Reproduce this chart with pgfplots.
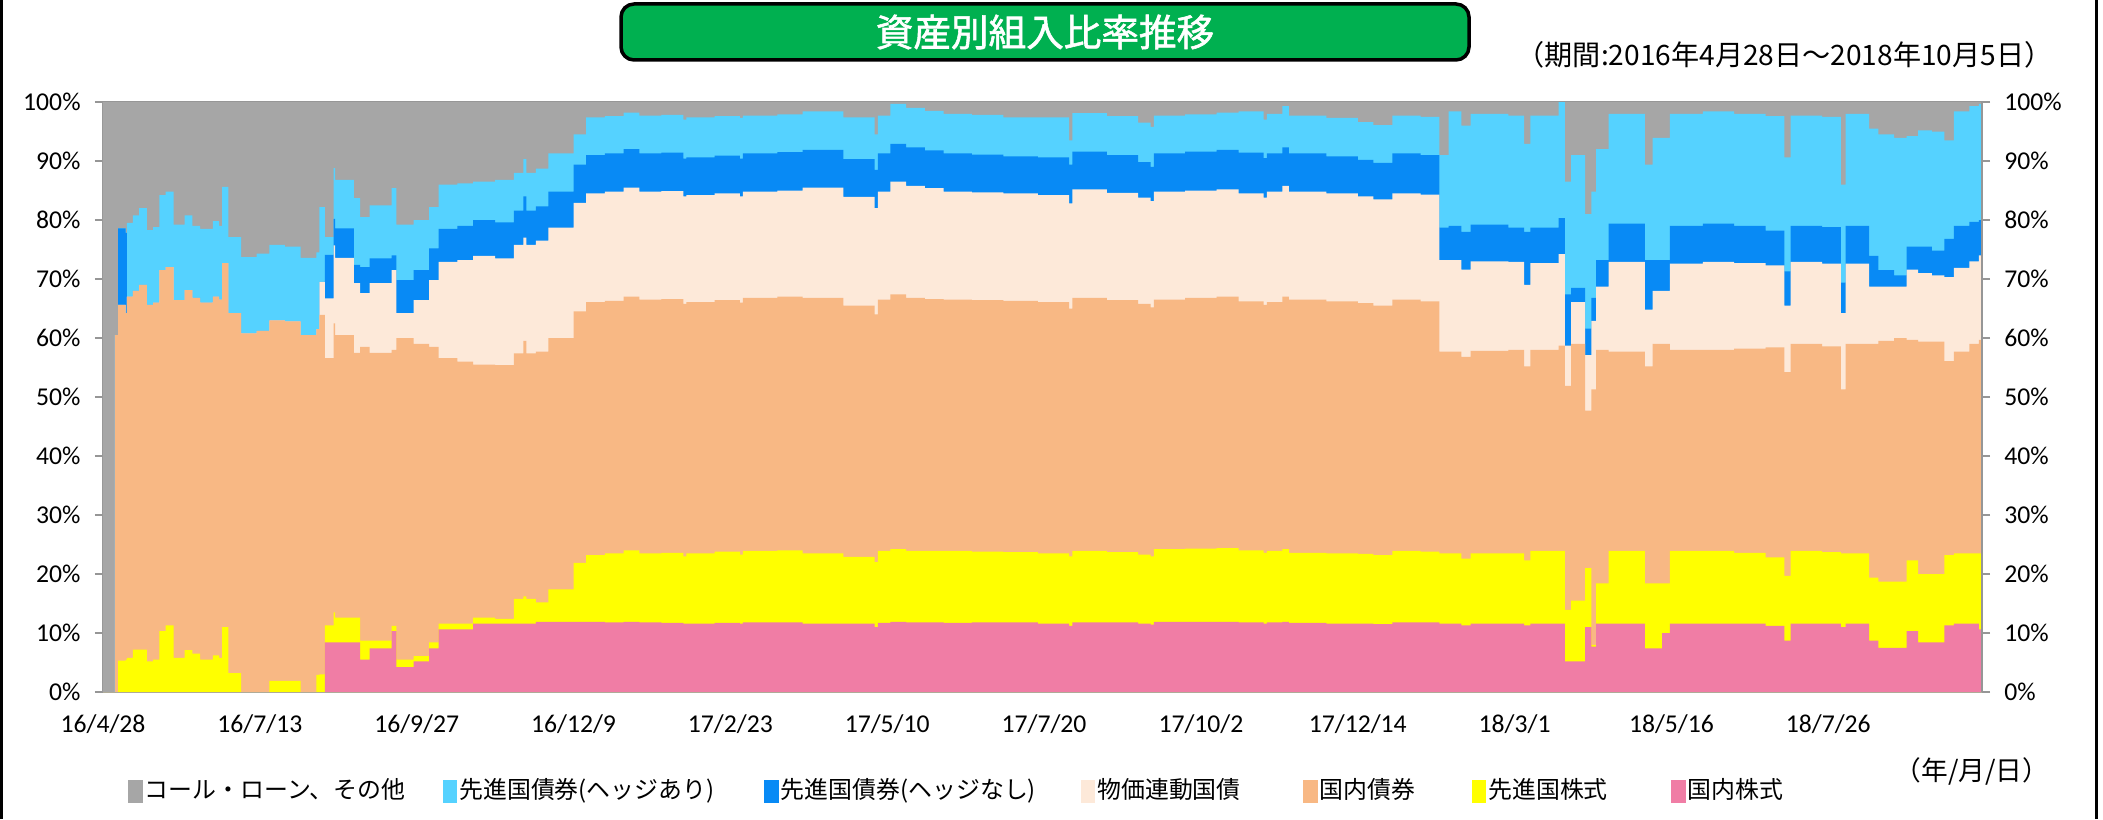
\documentclass[border=0pt]{standalone}
\usepackage{pgfplots}
\pgfplotsset{compat=1.18}
\usepackage{pgfplotstable}
\usepackage{fontspec}
\setmainfont{Carlito}
\newfontfamily\cjk{Noto Sans CJK JP}
\newfontfamily\cjkbold[FakeBold=1.5]{Noto Sans CJK JP}
\definecolor{cgray}{RGB}{166,166,166}
\definecolor{clblue}{RGB}{85,210,255}
\definecolor{cdblue}{RGB}{8,138,245}
\definecolor{cpale}{RGB}{253,233,217}
\definecolor{corange}{RGB}{248,184,132}
\definecolor{cyellow}{RGB}{255,255,0}
\definecolor{cpink}{RGB}{240,125,165}
\definecolor{cgreen}{RGB}{0,176,80}
\definecolor{caxis}{RGB}{150,150,150}

% cumulative tops: c1 pink, c2 yellow, c3 orange, c4 pale, c5 dark blue, c6 light blue; rest to 100 = call loan
\pgfplotstableread{
x c1 c2 c3 c4 c5 c6
0 0 0 0 0 0 0
3.8 0 0 60.5 60.5 60.5 60.5
4.8 0 5.3 65.6 65.6 78.6 78.6
7.2 0 5.5 64.2 64.2 77.8 77.8
7.6 0 5.8 67.0 67.0 67.0 79.5
9.5 0 7.2 68.0 68.0 68.0 80.8
11.5 0 7.2 69.0 69.0 69.0 82.0
14 0 5.2 65.6 65.6 65.6 78.3
16 0 5.5 66.0 66.0 66.0 78.8
18 0 10.3 71.5 71.5 71.5 84.2
20 0 11.3 72.0 72.0 72.0 84.8
22.5 0 5.8 66.4 66.4 66.4 79.2
26 0 7.1 68.1 68.1 68.1 80.8
28.5 0 6.5 66.8 66.8 66.8 79.0
31 0 5.5 66.0 66.0 66.0 78.5
35 0 6.2 67.0 67.0 67.0 79.8
37 0 5.8 66.5 66.5 66.5 79.0
38 0 11.0 72.7 72.7 72.7 85.6
40 0 3.2 64.2 64.2 64.2 77.1
44 0 0 60.8 60.8 60.8 73.7
49 0 0 61.2 61.2 61.2 74.3
53 0 1.9 63.0 63.0 63.0 75.8
58 0 1.9 62.8 62.8 62.8 75.5
63 0 0 60.5 60.5 60.5 73.6
68 0 2.9 61.5 61.5 61.5 74.5
69 0 3.0 63.9 69.5 69.5 82.2
70.7 8.4 11.3 56.6 66.7 74.1 77.1
73.5 8.4 13.5 62.5 75.7 80.2 88.8
74 8.4 12.6 60.5 73.6 78.6 86.8
80 8.4 12.6 57.5 69.3 72.4 83.7
82 5.5 8.7 58.5 67.6 72.0 80.5
85 7.4 8.7 57.5 69.3 73.5 82.5
92 10.3 11.2 58.0 71.5 74.0 85.4
93.5 4.2 5.5 60.0 64.2 69.8 79.2
99 5.2 6.1 59.0 66.4 71.5 80.0
104 7.4 8.4 58.5 69.8 75.2 82.2
107 10.6 11.6 56.6 72.9 78.5 86.0
113 10.6 11.6 56.0 73.2 79.0 86.2
118 11.6 12.6 55.5 73.9 80.0 86.5
125 11.6 12.4 55.4 73.5 79.6 86.8
131 11.6 15.8 57.4 75.8 81.6 88.0
134 11.6 16.2 59.5 77.0 84.0 90.3
135 11.6 15.8 57.4 75.8 81.6 88.0
138 11.9 15.2 57.7 76.5 82.3 88.7
142 11.9 17.4 60.0 78.7 84.8 91.3
150 11.9 21.9 64.5 82.9 89.4 94.5
154 11.9 23.2 66.1 84.5 91.0 97.4
160 11.8 23.5 66.3 84.8 91.3 97.6
166 11.9 24.0 67.0 85.5 92.0 98.2
171 11.8 23.5 66.5 84.8 91.3 97.7
178 11.7 23.6 66.6 84.9 91.4 97.8
185 11.6 23.0 65.8 84.0 90.4 97.0
186 11.6 23.5 66.1 84.2 90.6 97.4
195 11.7 23.8 66.4 84.5 90.9 97.6
203 11.6 23.3 66.0 84.0 90.4 97.3
204 11.8 23.9 66.8 84.8 91.3 97.7
215 11.8 24.0 67.0 85.0 91.5 97.9
223 11.6 23.5 66.8 85.5 91.9 98.4
236 11.6 22.9 65.5 83.9 90.3 97.4
246 11.0 22.0 64.0 82.0 88.5 94.5
247 11.7 23.9 66.5 84.8 91.3 97.7
251 11.9 24.2 67.4 86.5 92.9 99.7
256 11.8 23.9 66.8 85.8 92.3 99.0
262 11.8 23.9 66.6 85.4 91.8 98.5
268 11.7 23.9 66.5 84.8 91.3 98.0
277 11.8 23.8 66.4 84.7 91.1 97.8
287 11.8 23.7 66.3 84.5 90.8 97.4
298 11.6 23.5 66.1 84.2 90.6 97.4
308 11.2 23.0 65.0 82.8 89.4 93.5
309 11.8 23.9 66.8 85.2 91.6 98.1
320 11.8 23.7 66.4 84.6 91.0 97.6
330 11.6 23.3 65.8 83.8 89.8 96.5
334 11.4 23.0 65.2 83.2 89.0 95.8
335 11.9 24.2 66.5 84.8 91.3 97.7
345 11.9 24.3 66.8 85.0 91.6 97.9
355 11.9 24.4 67.0 85.2 91.9 98.2
362 11.8 24.0 66.2 84.5 91.4 98.4
370 11.6 23.6 65.6 83.8 90.5 97.0
371 11.8 23.9 66.1 84.8 91.3 98.0
376 11.9 24.2 67.0 85.8 92.3 99.3
378 11.7 23.6 66.5 84.8 91.3 97.7
390 11.6 23.5 66.2 84.5 90.8 97.3
400 11.6 23.4 65.9 84.0 90.2 96.6
405 11.5 23.2 65.5 83.5 89.7 96.1
411 11.8 23.9 66.5 84.5 91.3 97.7
420 11.8 23.8 66.2 84.3 91.0 97.5
426 11.6 23.5 57.7 73.2 78.7 91.0
429 11.6 23.5 57.7 73.2 79.0 98.4
433 11.3 22.6 56.8 71.6 78.0 96.0
436 11.6 23.5 57.8 73.0 79.2 98.0
448 11.6 23.5 58.0 72.9 78.7 97.7
453 11.3 22.3 55.2 69.0 78.0 92.9
455 11.6 23.9 58.0 72.7 78.7 97.7
464 11.6 23.9 58.7 74.2 80.3 100
466 5.2 13.9 51.9 58.7 67.4 86.5
468 5.2 15.5 59.0 66.1 68.5 91.0
472.5 11.0 21.0 47.7 57.1 61.6 81.0
474.5 7.7 8.0 51.3 62.9 66.8 84.8
476 11.6 18.4 58.0 68.7 73.2 92.0
480 11.6 23.9 57.7 72.9 79.4 98.0
491.5 7.4 18.4 55.2 64.8 73.2 89.4
494 7.4 18.4 59.0 68.0 73.2 93.9
497 10.0 18.4 59.0 68.0 73.2 93.9
499.5 11.6 23.9 58.0 72.6 79.0 98.0
510 11.6 23.9 58.0 72.9 79.4 98.4
520 11.6 23.6 58.2 72.7 79.0 98.0
530 11.2 22.8 58.4 72.3 78.2 97.6
536 8.7 19.7 54.2 65.5 71.3 90.6
538 11.6 23.9 59.0 72.9 79.0 97.7
548 11.6 23.7 58.6 72.6 78.8 97.5
554 11.0 23.5 51.3 64.2 69.4 86.0
555.5 11.6 23.5 59.0 72.6 79.0 98.0
563 8.7 19.4 59.0 68.7 73.9 95.5
566 7.5 18.7 59.5 68.7 71.5 94.5
571 7.5 18.7 60.0 68.7 70.6 93.9
575 10.3 22.3 59.7 71.6 75.5 94.2
578.6 8.4 20.0 59.4 71.0 75.5 95.2
583 8.4 20.0 59.4 70.6 74.8 95.0
587 11.3 23.2 56.1 70.3 76.8 93.5
590 11.6 23.5 57.7 71.9 79.0 98.4
595 11.6 23.5 59.0 73.0 79.7 99.3
598 10.6 23.5 59.7 74.0 80.0 99.7
599 10.6 23.5 59.7 74.0 80.0 99.7
}\data

\begin{document}
\begin{tikzpicture}[x=0.1mm,y=0.1mm]
\path[use as bounding box] (0,0) rectangle (2103,819);
% frame lines
\draw[line width=0.3mm] (1.5,0) -- (1.5,819);
\draw[line width=0.3mm] (2096,0) -- (2096,819);
% title
\draw[line width=0.35mm, rounded corners=1.3mm, fill=cgreen] (621,759) rectangle (1469,815);
\node[text=white, font=\cjkbold\fontsize{10.7}{12}\selectfont] at (1045,787) {資産別組入比率推移};
\node[anchor=east, font=\cjk\fontsize{8.0}{9}\selectfont, inner sep=0pt] at (2053,764) {（期間:2016年4月28日～2018年10月5日）};
\node[anchor=east, font=\cjk\fontsize{7.6}{9}\selectfont, inner sep=0pt] at (2050,48) {（年/月/日）};

\begin{axis}[
  at={(10.3mm,12.7mm)}, anchor=south west, scale only axis,
  width=187.9mm, height=59mm,
  xmin=0, xmax=599, ymin=0, ymax=100, enlargelimits=false,
  const plot,
  axis line style={caxis, line width=0.25mm},
  tick align=outside, major tick length=0.8mm,
  ytick={0,10,...,100},
  yticklabels={0\%,10\%,20\%,30\%,40\%,50\%,60\%,70\%,80\%,90\%,100\%},
  ytick pos=left,
  ytick style={caxis, line width=0.25mm},
  xtick={0,50,...,550},
  xticklabels={16/4/28,16/7/13,16/9/27,16/12/9,17/2/23,17/5/10,17/7/20,17/10/2,17/12/14,18/3/1,18/5/16,18/7/26},
  xtick style={draw=none},
  tick label style={font=\fontsize{7.3}{8}\selectfont},
  yticklabel style={anchor=east, xshift=-0.2mm},
  xticklabel style={yshift=-0.2mm},
  legend columns=-1,
  legend style={at={(0.0135,-0.1678)}, anchor=west, draw=none, fill=none,
    inner sep=0pt, outer sep=0pt, column sep=0pt,
    nodes={inner xsep=0.2mm, inner ysep=0pt, anchor=west, font=\cjk\fontsize{6.8}{8}\selectfont}},
  legend image code/.code={\fill[#1] (0mm,-1.15mm) rectangle (1.45mm,1.1mm);},
]
\addplot[fill=cgray, draw=none] table[x=x, y expr=100] {\data} \closedcycle;
\addlegendentry{\makebox[29.6mm][l]{コール・ローン、その他}}
\addplot[fill=clblue, draw=none] table[x=x, y=c6] {\data} \closedcycle;
\addlegendentry{\makebox[30.3mm][l]{先進国債券(ヘッジあり)}}
\addplot[fill=cdblue, draw=none] table[x=x, y=c5] {\data} \closedcycle;
\addlegendentry{\makebox[29.8mm][l]{先進国債券(ヘッジなし)}}
\addplot[fill=cpale, draw=none] table[x=x, y=c4] {\data} \closedcycle;
\addlegendentry{\makebox[20.4mm][l]{物価連動国債}}
\addplot[fill=corange, draw=none] table[x=x, y=c3] {\data} \closedcycle;
\addlegendentry{\makebox[15.0mm][l]{国内債券}}
\addplot[fill=cyellow, draw=none] table[x=x, y=c2] {\data} \closedcycle;
\addlegendentry{\makebox[18.1mm][l]{先進国株式}}
\addplot[fill=cpink, draw=none] table[x=x, y=c1] {\data} \closedcycle;
\addlegendentry{国内株式}
\end{axis}

\begin{axis}[
  at={(10.3mm,12.7mm)}, anchor=south west, scale only axis,
  width=187.9mm, height=59mm,
  xmin=0, xmax=599, ymin=0, ymax=100,
  axis x line=none, axis y line*=right,
  axis line style={caxis, line width=0.25mm},
  tick align=outside, major tick length=0.8mm,
  ytick={0,10,...,100},
  yticklabels={0\%,10\%,20\%,30\%,40\%,50\%,60\%,70\%,80\%,90\%,100\%},
  ytick style={caxis, line width=0.25mm},
  tick label style={font=\fontsize{7.3}{8}\selectfont},
  yticklabel style={anchor=west, xshift=0.2mm},
]
\end{axis}
\end{tikzpicture}
\end{document}
